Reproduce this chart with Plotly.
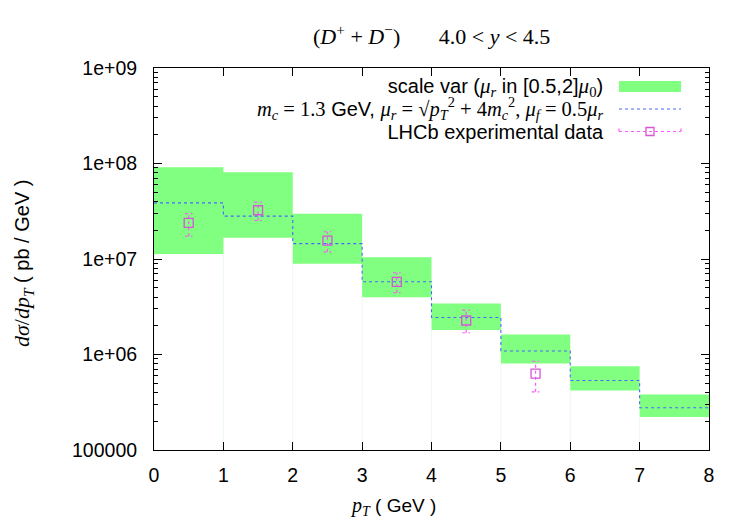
import plotly.graph_objects as go

# ---- data ----
bin_lo = [0, 1, 2, 3, 4, 5, 6, 7]
bin_hi = [1, 2, 3, 4, 5, 6, 7, 8]
band_low = [1.13e7, 1.67e7, 8.9e6, 3.98e6, 1.80e6, 8.05e5, 4.2e5, 2.21e5]
band_high = [9.14e7, 8.1e7, 2.97e7, 1.04e7, 3.42e6, 1.62e6, 7.54e5, 3.81e5]
central = [3.87e7, 2.81e7, 1.45e7, 5.77e6, 2.44e6, 1.09e6, 5.35e5, 2.77e5]

data_x = [0.5, 1.5, 2.5, 3.5, 4.5, 5.5]
data_y = [2.39e7, 3.24e7, 1.56e7, 5.77e6, 2.27e6, 6.32e5]
data_lo = [1.73e7, 2.53e7, 1.19e7, 4.43e6, 1.69e6, 4.07e5]
data_hi = [2.99e7, 3.94e7, 1.93e7, 7.18e6, 2.91e6, 8.5e5]

y_tickvals = [1e5, 1e6, 1e7, 1e8, 1e9]
y_ticktext = ["100000", "1e+06", "1e+07", "1e+08", "1e+09"]
x_tickvals = [0, 1, 2, 3, 4, 5, 6, 7, 8]

GREEN = "#80ff80"
BLUE = "#4a66ff"
MAG = "#ff55ff"
MARK = "#d855d8"
SANS = "Liberation Sans"
SERIF = "Liberation Serif"

fig = go.Figure()

# faint vertical lines below the bands at bin edges
fx, fy = [], []
for a, lo in zip(bin_lo, band_low):
    fx += [a, a, None]
    fy += [1e5, lo, None]
fig.add_trace(go.Scatter(x=fx, y=fy, mode="lines",
                         line=dict(color="rgba(225,245,225,0.6)", width=1),
                         hoverinfo="skip", showlegend=False))

# green band rectangles
bx, by = [], []
for a, b, lo, hi in zip(bin_lo, bin_hi, band_low, band_high):
    bx += [a, b, b, a, a, None]
    by += [lo, lo, hi, hi, lo, None]
fig.add_trace(go.Scatter(x=bx, y=by, mode="lines", fill="toself",
                         fillcolor=GREEN, line=dict(width=0, color=GREEN),
                         hoverinfo="skip", showlegend=False))

# central step line
sx = bin_lo + [bin_hi[-1]]
sy = central + [central[-1]]
fig.add_trace(go.Scatter(x=sx, y=sy, mode="lines", line_shape="hv",
                         line=dict(color=BLUE, width=1.1, dash="3px,3px"),
                         showlegend=False))

# error bars (dotted) with caps
ex, ey = [], []
cw = 0.055
for x, lo, hi in zip(data_x, data_lo, data_hi):
    ex += [x, x, None, x - cw, x + cw, None, x - cw, x + cw, None]
    ey += [lo, hi, None, lo, lo, None, hi, hi, None]
fig.add_trace(go.Scatter(x=ex, y=ey, mode="lines",
                         line=dict(color=MAG, width=1.2, dash="dot"),
                         showlegend=False))
fig.add_trace(go.Scatter(x=data_x, y=data_y, mode="markers",
                         marker=dict(symbol="square-open", size=9,
                                     color=MARK, line=dict(width=1.3)),
                         showlegend=False))

L, R, T, B = 154, 41, 68, 75
W, H = 750, 525
pw, ph = W - L - R, H - T - B


def px2paper_x(px):
    return (px - L) / pw


def px2paper_y(py):
    return (H - B - py) / ph


def sans(t, size=20):
    return f"<span style='font-family:{SANS};font-size:{size}px'>{t}</span>"


def serif(t, size=21):
    return f"<span style='font-family:{SERIF};font-size:{size}px'>{t}</span>"


# legend (one right-aligned block of three lines)
row1 = (sans("scale var (") + serif("<i>μ<sub>r</sub></i>") + sans(" in [0.5,2]")
        + serif("<i>μ</i><sub>0</sub>") + sans(")"))
row2 = (serif("<i>m<sub>c</sub></i> = 1.3", 20.5) + sans(" GeV, ")
        + serif("<i>μ<sub>r</sub></i> = √<i>p</i><sub><i>T</i></sub><sup>2</sup> + 4<i>m</i><sub><i>c</i></sub><sup>2</sup>, "
                "<i>μ<sub>f</sub></i> = 0.5<i>μ<sub>r</sub></i>", 20.5))
row3 = sans("LHCb experimental data")
annotations = [dict(x=px2paper_x(606), y=px2paper_y(108.5), xref="paper", yref="paper",
                    xanchor="right", yanchor="middle", align="right", showarrow=False,
                    text="<br>".join([row1, row2, row3]),
                    font=dict(family=SERIF, size=17.5, color="black"))]

shapes = [
    dict(type="rect", xref="paper", yref="paper",
         x0=px2paper_x(619), x1=px2paper_x(681), y0=px2paper_y(92), y1=px2paper_y(81),
         fillcolor=GREEN, line=dict(width=0)),
    dict(type="line", xref="paper", yref="paper",
         x0=px2paper_x(619), x1=px2paper_x(681), y0=px2paper_y(109), y1=px2paper_y(109),
         line=dict(color=BLUE, width=1.1, dash="3px,3px")),
    dict(type="line", xref="paper", yref="paper",
         x0=px2paper_x(619), x1=px2paper_x(681), y0=px2paper_y(131.5), y1=px2paper_y(131.5),
         line=dict(color=MAG, width=1.2, dash="dot")),
    dict(type="line", xref="paper", yref="paper",
         x0=px2paper_x(619), x1=px2paper_x(619), y0=px2paper_y(128.5), y1=px2paper_y(134.5),
         line=dict(color=MAG, width=1.2, dash="dot")),
    dict(type="line", xref="paper", yref="paper",
         x0=px2paper_x(681), x1=px2paper_x(681), y0=px2paper_y(128.5), y1=px2paper_y(134.5),
         line=dict(color=MAG, width=1.2, dash="dot")),
    dict(type="rect", xref="paper", yref="paper",
         x0=px2paper_x(646), x1=px2paper_x(654), y0=px2paper_y(135.5), y1=px2paper_y(127.5),
         fillcolor="rgba(0,0,0,0)", line=dict(color=MARK, width=1.3)),
]

# title
annotations.append(dict(x=0.5, y=px2paper_y(35), xref="paper", yref="paper",
                        xanchor="center", yanchor="middle", showarrow=False,
                        text="(<i>D</i><sup>+</sup> + <i>D</i><sup>−</sup>)       4.0 &lt; <i>y</i> &lt; 4.5",
                        font=dict(family=SERIF, size=22, color="black")))
# axis titles
annotations.append(dict(x=px2paper_x(393), y=px2paper_y(506), xref="paper", yref="paper",
                        xanchor="center", yanchor="middle", showarrow=False,
                        text="<i>p<sub>T</sub></i>" + sans(" ( GeV )", 19),
                        font=dict(family=SERIF, size=20, color="black")))
annotations.append(dict(x=px2paper_x(23), y=px2paper_y(264), xref="paper", yref="paper",
                        xanchor="center", yanchor="middle", showarrow=False, textangle=-90,
                        text="<i>dσ</i>/<i>dp<sub>T</sub></i>" + sans(" ( pb / GeV )", 20),
                        font=dict(family=SERIF, size=22, color="black")))

minor_y = [m * 10 ** e for e in range(5, 9) for m in range(2, 10)]

fig.update_layout(
    width=W, height=H,
    margin=dict(l=L, r=R, t=T, b=B),
    paper_bgcolor="white", plot_bgcolor="white",
    showlegend=False,
    annotations=annotations, shapes=shapes,
    font=dict(family=SANS, size=19, color="black"),
)
fig.update_xaxes(range=[0, 8], tickvals=x_tickvals, ticks="inside", ticklen=8,
                 showline=True, linecolor="black", linewidth=1, mirror="allticks",
                 showgrid=False, zeroline=False, tickcolor="black",
                 ticklabelstandoff=8,
                 tickfont=dict(family=SANS, size=19.5))
fig.update_yaxes(type="log", range=[5, 9], tickvals=y_tickvals, ticktext=y_ticktext,
                 ticks="inside", ticklen=8, showline=True, linecolor="black", linewidth=1,
                 mirror="allticks", showgrid=False, zeroline=False, tickcolor="black",
                 ticklabelstandoff=12,
                 tickfont=dict(family=SANS, size=19.5),
                 minor=dict(tickvals=minor_y, ticks="inside", ticklen=4, tickcolor="black",
                            showgrid=False))

fig.write_html("out.html")
